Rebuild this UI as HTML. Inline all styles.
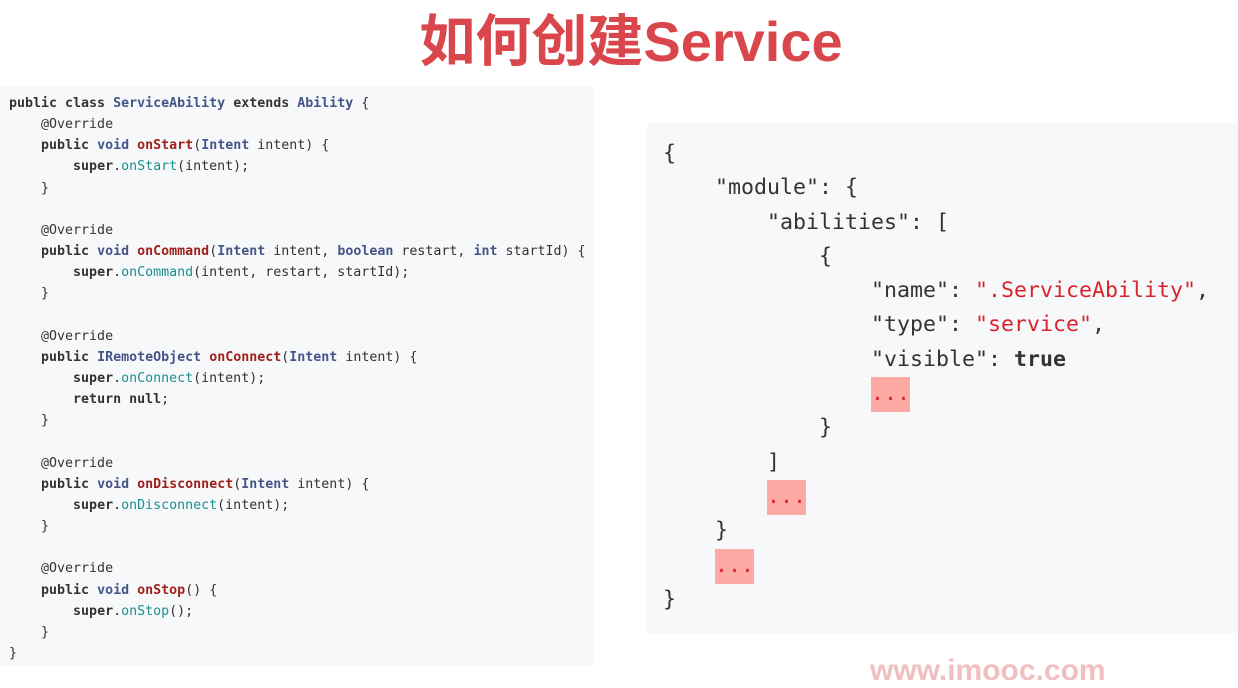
<!DOCTYPE html>
<html><head><meta charset="utf-8"><style>
body{margin:0;width:1238px;height:666px;background:#fff;position:relative;overflow:hidden;}
.t{position:absolute;left:0;width:1262px;text-align:center;top:6px;font:bold 56px "Liberation Sans","Noto Sans CJK SC",sans-serif;color:#d9474c;line-height:72px;}
.l{position:absolute;left:0;top:87px;width:593px;height:579px;background:#f6f8fa;}
.l pre{margin:0;position:absolute;left:9px;top:6px;font:13.3px/21.15px "DejaVu Sans Mono",monospace;color:#333;}
.k{font-weight:bold;color:#333}
.c{font-weight:bold;color:#445588}
.m{font-weight:bold;color:#a0201c}
.f{color:#1a8f8f}
.r{position:absolute;left:647px;top:123px;width:591px;height:510px;background:#f6f8fa;}
.r pre{margin:0;position:absolute;left:16px;top:14px;font:21.6px/34.3px "DejaVu Sans Mono",monospace;color:#333;}
.s{color:#d9242d}
.d{background:#fdaaa5;color:#d9242d;padding:4px 0 6px}
.w{position:absolute;top:654px;left:870px;font:bold 30px "Liberation Sans",sans-serif;color:#f0c0c0;}
</style></head><body>
<div class="t">如何创建Service</div>
<div class="l"><pre><span class="k">public class</span> <span class="c">ServiceAbility</span> <span class="k">extends</span> <span class="c">Ability</span> {
    @Override
    <span class="k">public</span> <span class="c">void</span> <span class="m">onStart</span>(<span class="c">Intent</span> intent) {
        <span class="k">super</span>.<span class="f">onStart</span>(intent);
    }

    @Override
    <span class="k">public</span> <span class="c">void</span> <span class="m">onCommand</span>(<span class="c">Intent</span> intent, <span class="c">boolean</span> restart, <span class="c">int</span> startId) {
        <span class="k">super</span>.<span class="f">onCommand</span>(intent, restart, startId);
    }

    @Override
    <span class="k">public</span> <span class="c">IRemoteObject</span> <span class="m">onConnect</span>(<span class="c">Intent</span> intent) {
        <span class="k">super</span>.<span class="f">onConnect</span>(intent);
        <span class="k">return null</span>;
    }

    @Override
    <span class="k">public</span> <span class="c">void</span> <span class="m">onDisconnect</span>(<span class="c">Intent</span> intent) {
        <span class="k">super</span>.<span class="f">onDisconnect</span>(intent);
    }

    @Override
    <span class="k">public</span> <span class="c">void</span> <span class="m">onStop</span>() {
        <span class="k">super</span>.<span class="f">onStop</span>();
    }
}</pre></div>
<div class="r"><pre>{
    "module": {
        "abilities": [
            {
                "name": <span class="s">".ServiceAbility"</span>,
                "type": <span class="s">"service"</span>,
                "visible": <b>true</b>
                <span class="d">...</span>
            }
        ]
        <span class="d">...</span>
    }
    <span class="d">...</span>
}</pre></div>
<div class="w">www.imooc.com</div>
</body></html>
